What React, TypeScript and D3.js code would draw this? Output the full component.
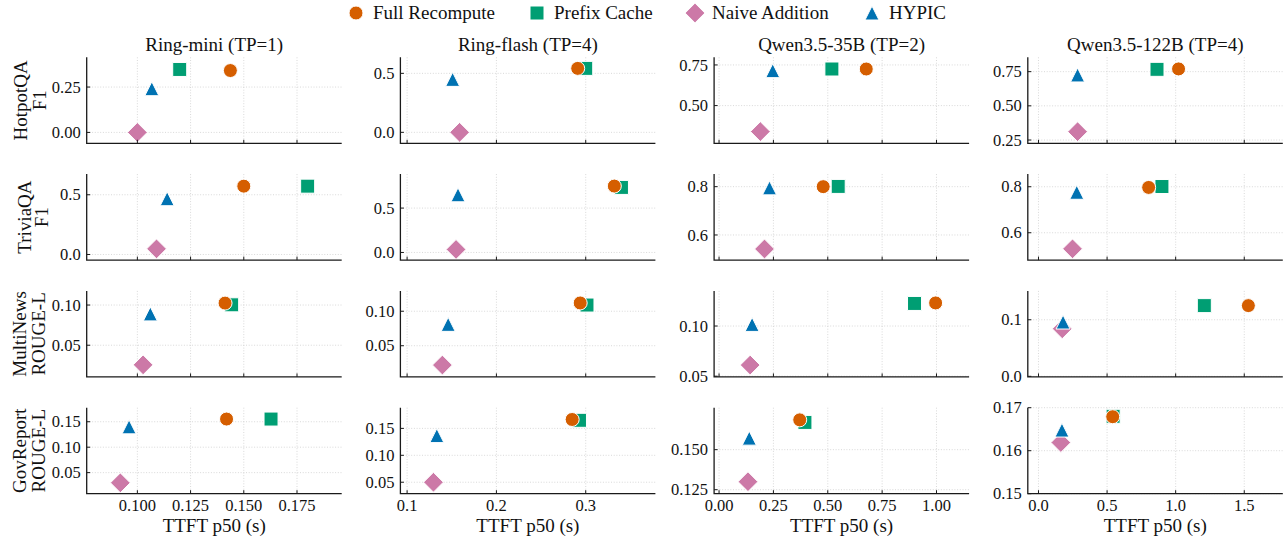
import React from "react";
import * as d3 from "d3";

// columns / rows of the grid
const models = ["Ring-mini (TP=1)", "Ring-flash (TP=4)", "Qwen3.5-35B (TP=2)", "Qwen3.5-122B (TP=4)"];
const datasets = ["HotpotQA", "TriviaQA", "MultiNews", "GovReport"];
const metrics = ["F1", "F1", "ROUGE-L", "ROUGE-L"];
const methods = ["Full Recompute", "Prefix Cache", "Naive Addition", "HYPIC"];

// TTFT p50 (s), [dataset][model]
const fullRecomputeTtft = [
  [0.1437, 0.291, 0.677, 1.021],
  [0.150, 0.332, 0.479, 0.803],
  [0.1412, 0.2938, 0.996, 1.53],
  [0.1419, 0.2848, 0.371, 0.541],
];
const fullRecomputeScore = [
  [0.341, 0.542, 0.725, 0.770],
  [0.572, 0.748, 0.800, 0.797],
  [0.1024, 0.112, 0.123, 0.125],
  [0.1553, 0.1665, 0.1686, 0.1679],
];
const prefixCacheTtft = [
  [0.1199, 0.300, 0.519, 0.864],
  [0.180, 0.340, 0.548, 0.900],
  [0.1443, 0.3014, 0.899, 1.209],
  [0.1628, 0.293, 0.395, 0.544],
];
const prefixCacheScore = [
  [0.347, 0.542, 0.725, 0.767],
  [0.572, 0.733, 0.801, 0.801],
  [0.1003, 0.109, 0.1225, 0.125],
  [0.1553, 0.165, 0.167, 0.168],
];
const naiveAdditionTtft = [
  [0.100, 0.1588, 0.190, 0.285],
  [0.109, 0.1548, 0.209, 0.248],
  [0.1027, 0.1395, 0.143, 0.173],
  [0.092, 0.1295, 0.133, 0.163],
];
const naiveAdditionScore = [
  [0.0, 0.0, 0.340, 0.311],
  [0.047, 0.034, 0.542, 0.530],
  [0.0256, 0.022, 0.0611, 0.084],
  [0.030, 0.050, 0.130, 0.1619],
];
const hypicTtft = [
  [0.1068, 0.151, 0.247, 0.285],
  [0.114, 0.157, 0.232, 0.279],
  [0.1061, 0.146, 0.152, 0.179],
  [0.0961, 0.1333, 0.139, 0.171],
];
const hypicScore = [
  [0.241, 0.449, 0.715, 0.726],
  [0.467, 0.650, 0.795, 0.776],
  [0.089, 0.081, 0.1016, 0.096],
  [0.140, 0.1366, 0.1572, 0.1648],
];

// axis limits and ticks
const xDomains = [[0.0762, 0.196], [0.0925, 0.378], [-0.0228, 1.15], [-0.078, 1.781]];
const xTicks = [[0.1, 0.125, 0.15, 0.175], [0.1, 0.2, 0.3], [0, 0.25, 0.5, 0.75, 1.0], [0, 0.5, 1.0, 1.5]];
const xTickDigits = [3, 1, 2, 1];
const yDomains = [
  [[-0.06, 0.414], [-0.093, 0.636], [0.268, 0.797], [0.226, 0.855]],
  [[-0.047, 0.673], [-0.086, 0.883], [0.496, 0.852], [0.481, 0.855]],
  [[0.0106, 0.1176], [0.0048, 0.1295], [0.0493, 0.135], [-0.001, 0.151]],
  [[0.0086, 0.1776], [0.0287, 0.1884], [0.1225, 0.1762], [0.15, 0.17]],
];
const yTicks = [
  [[0, 0.25], [0, 0.5], [0.5, 0.75], [0.25, 0.5, 0.75]],
  [[0, 0.5], [0, 0.5], [0.6, 0.8], [0.6, 0.8]],
  [[0.05, 0.1], [0.05, 0.1], [0.05, 0.1], [0, 0.1]],
  [[0.05, 0.1, 0.15], [0.05, 0.1, 0.15], [0.125, 0.15], [0.15, 0.16, 0.17]],
];
const yTickDigits = [
  [2, 1, 2, 2],
  [1, 1, 1, 1],
  [2, 2, 2, 1],
  [2, 2, 3, 2],
];

const W = 1286;
const H = 542;
const axLeft = [86.7, 400.4, 714.1, 1027.8];
const axTop = [57.3, 174.1, 290.9, 407.7];
const axW = 255;
const axH = 86;
const FONT = "'Liberation Serif', 'Times New Roman', Times, serif";
const txt = { fontFamily: FONT, fill: "#111" };
const MARKER = 14;
// ylabel baseline x for each row (line 1, line 2)
const yLabelX = [[27, 45.5], [31, 48], [26, 44.5], [26, 44.5]];

// matplotlib-like marker shapes as d3 symbol types
const mplCircle = {
  draw(ctx: any, size: number) {
    const r = Math.sqrt(size) / 2;
    ctx.moveTo(r, 0);
    ctx.arc(0, 0, r, 0, 2 * Math.PI);
  },
};
const mplSquare = {
  draw(ctx: any, size: number) {
    const h = Math.sqrt(size) / 2;
    ctx.rect(-h, -h, 2 * h, 2 * h);
  },
};
const mplDiamond = {
  draw(ctx: any, size: number) {
    const h = (Math.sqrt(size) / 2) * Math.SQRT2;
    ctx.moveTo(0, -h);
    ctx.lineTo(h, 0);
    ctx.lineTo(0, h);
    ctx.lineTo(-h, 0);
    ctx.closePath();
  },
};
const mplTriangle = {
  draw(ctx: any, size: number) {
    const h = Math.sqrt(size) / 2;
    ctx.moveTo(0, -h);
    ctx.lineTo(h, h);
    ctx.lineTo(-h, h);
    ctx.closePath();
  },
};

const series = [
  { name: methods[0], color: "#D55E00", type: mplCircle, ttft: fullRecomputeTtft, score: fullRecomputeScore },
  { name: methods[1], color: "#009E73", type: mplSquare, ttft: prefixCacheTtft, score: prefixCacheScore },
  { name: methods[2], color: "#CC79A7", type: mplDiamond, ttft: naiveAdditionTtft, score: naiveAdditionScore },
  { name: methods[3], color: "#0072B2", type: mplTriangle, ttft: hypicTtft, score: hypicScore },
];
const drawOrder = [1, 0, 2, 3];
const legendX = [356, 537, 695, 872];

function Panel({ r, c }: { r: number; c: number }) {
  const x = d3.scaleLinear().domain(xDomains[c]).range([0, axW]);
  const y = d3.scaleLinear().domain(yDomains[r][c]).range([axH, 0]);
  const fx = d3.format(`.${xTickDigits[c]}f`);
  const fy = d3.format(`.${yTickDigits[r][c]}f`);
  const grid = { stroke: "#cfcfcf", strokeWidth: 0.8, strokeDasharray: "1,1.7" };
  return (
    <g transform={`translate(${axLeft[c]},${axTop[r]})`}>
      {xTicks[c].map((t) => (
        <line key={"gx" + t} x1={x(t)} x2={x(t)} y1={0} y2={axH} {...grid} />
      ))}
      {yTicks[r][c].map((t) => (
        <line key={"gy" + t} x1={0} x2={axW} y1={y(t)} y2={y(t)} {...grid} />
      ))}
      {drawOrder.map((k) => {
        const s = series[k];
        const p = d3.symbol(s.type as any, MARKER * MARKER)() as string;
        return (
          <path
            key={s.name}
            d={p}
            transform={`translate(${x(s.ttft[r][c])},${y(s.score[r][c])})`}
            fill={s.color}
            stroke="#fff"
            strokeWidth={1}
          />
        );
      })}
      <path d={`M0,0V${axH}H${axW}`} fill="none" stroke="#1a1a1a" strokeWidth={1.3} />
      {xTicks[c].map((t) => (
        <line key={"tx" + t} x1={x(t)} x2={x(t)} y1={axH} y2={axH - 3.5} stroke="#1a1a1a" strokeWidth={1} />
      ))}
      {yTicks[r][c].map((t) => (
        <g key={"ty" + t}>
          <line x1={0} x2={3.5} y1={y(t)} y2={y(t)} stroke="#1a1a1a" strokeWidth={1} />
          <text x={-6} y={y(t)} dy="0.34em" textAnchor="end" fontSize={16.5} style={txt}>
            {fy(t)}
          </text>
        </g>
      ))}
      {r === 3 &&
        xTicks[c].map((t) => (
          <text key={"lx" + t} x={x(t)} y={axH + 17} textAnchor="middle" fontSize={16.5} style={txt}>
            {fx(t)}
          </text>
        ))}
      {r === 3 && (
        <text x={axW / 2} y={axH + 38} textAnchor="middle" fontSize={19} style={txt}>
          TTFT p50 (s)
        </text>
      )}
      {r === 0 && (
        <text x={axW / 2} y={-6.5} textAnchor="middle" fontSize={19} style={txt}>
          {models[c]}
        </text>
      )}
    </g>
  );
}

export default function App() {
  return (
    <svg width={W} height={H} style={{ position: "absolute", left: 0, top: 0, background: "#fff", fontFamily: FONT }}>
      <rect width={W} height={H} fill="#fff" />
      {series.map((s, i) => (
        <g key={s.name} transform={`translate(${legendX[i]},13)`}>
          <path d={d3.symbol(s.type as any, MARKER * MARKER)() as string} fill={s.color} stroke="#fff" strokeWidth={1} />
          <text x={17} y={0} dy="0.34em" fontSize={19} style={txt}>
            {s.name}
          </text>
        </g>
      ))}
      {datasets.map((d, r) => (
        <g key={d} transform={`translate(0,${axTop[r] + axH / 2}) rotate(-90)`}>
          <text x={0} y={yLabelX[r][0]} textAnchor="middle" fontSize={19} style={txt}>
            {d}
          </text>
          <text x={0} y={yLabelX[r][1]} textAnchor="middle" fontSize={19} style={txt}>
            {metrics[r]}
          </text>
        </g>
      ))}
      {datasets.map((d, r) => models.map((m, c) => <Panel key={d + m} r={r} c={c} />))}
    </svg>
  );
}
